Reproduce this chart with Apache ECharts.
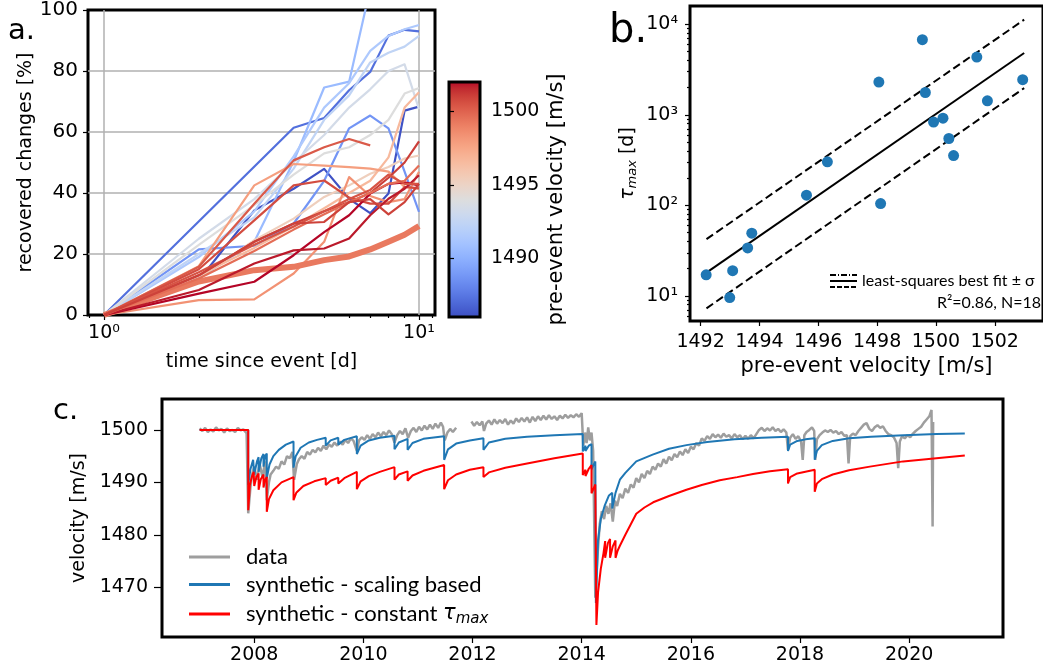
<!DOCTYPE html>
<html>
<head>
<meta charset="utf-8">
<script src="https://cdn.jsdelivr.net/npm/echarts@6/dist/echarts.min.js"></script>
<style>
  html, body { margin: 0; padding: 0; background: #fff; }
  #main { width: 1043px; height: 669px; }
</style>
</head>
<body>
<div id="main"></div>
<script>
// ---- panel a: recovery curves ----
var days = [1, 2, 3, 4, 5, 6, 7, 8, 9, 10];
var recVel = [1486.2, 1487.3, 1488.8, 1490.6, 1491.5, 1492.4, 1493.4, 1494.0, 1495.3, 1496.6,
              1497.8, 1498.3, 1500.2, 1500.6, 1501.0, 1502.0, 1501.7, 1499.6, 1500.4, 1500.9];
var recVals = [
  [0, 11.4, 34.3, 41.4, 47.9, 38.1, 33.4, 39.8, 67.0, 68.3],
  [0, null, null, 61.4, 64.6, 73.7, 79.7, 91.6, 93.5, 93.0],
  [0, 21.5, 22.7, 30.0, 44.0, 61.2, 65.4, 61.2, 47.0, 33.8],
  [0, 12.0, 24.0, 50.4, 74.6, 76.5, 107.0, null, null, null],
  [0, 19.0, 34.0, 52.0, 68.0, 76.0, 86.6, 91.5, 93.7, 95.1],
  [0, 20.0, 32.0, 48.0, 64.0, 72.0, 82.8, 86.0, 88.0, 91.5],
  [0, 25.0, 38.0, 50.0, 59.0, 68.0, 74.0, 80.0, 82.2, 67.5],
  [0, 23.0, 36.0, 46.0, 53.0, 55.0, 59.0, 64.0, 72.6, 74.4],
  [0, 12.0, 24.5, 31.6, 38.7, 42.5, 46.3, 48.5, 51.3, 52.3],
  [0, 13.0, 22.0, 29.0, 35.0, 40.0, 44.0, 51.7, 68.0, 73.0],
  [0, 16.0, 42.5, 49.5, 49.0, 48.5, 48.0, 47.0, 42.0, 41.4],
  [0, 4.9, 5.1, 13.6, 24.0, 45.2, 39.0, 37.0, 38.0, 47.0],
  [0, 15.8, 36.5, 50.7, 55.0, 57.7, 55.6, null, null, null],
  [0, 15.0, 31.0, 42.5, 44.1, 38.5, 36.5, 36.5, 42.0, 41.5],
  [0, 13.0, 24.0, 30.0, 34.0, 37.0, 40.0, 45.0, 50.0, 56.9],
  [0, 7.0, 10.9, 19.6, 27.2, 32.7, 39.8, 43.0, 43.5, 42.5],
  [0, 8.2, 16.9, 21.2, 21.8, 25.1, 32.7, 38.1, 41.4, 45.8],
  [0, 12.0, 21.0, 28.0, 33.0, 37.0, 40.0, 43.0, 44.0, 49.0],
  [0, 14.0, 23.0, 29.0, 34.0, 38.0, 41.0, 46.0, 43.0, 43.0],
  [0, 13.0, 24.0, 30.0, 30.5, 37.0, 38.0, 33.0, 37.0, 43.0]
];
var meanVel = 1499.2;
var meanVals = [0, 11.0, 14.7, 15.8, 18.0, 19.2, 21.5, 24.0, 26.3, 29.2];
var aMajorTicks = [1, 10];
var aMinorTicks = [0.9, 2, 3, 4, 5, 6, 7, 8, 9, 11];
var aGridY = [20, 40, 60, 80];

// ---- colorbar ----
var cbarMin = 1486, cbarMax = 1502;
var cbarTicks = [1490, 1495, 1500];

// ---- panel b: tau_max vs velocity ----
var bVel = [1492.19, 1493.09, 1492.99, 1493.60, 1493.74, 1495.60, 1496.31, 1498.06, 1498.12,
            1499.54, 1499.64, 1499.92, 1500.24, 1500.44, 1500.60, 1501.39, 1501.75, 1502.95];
var bTau = [17.1, 19.0, 9.6, 33.9, 49.3, 129.7, 302.9, 2302, 104.8,
            6760, 1766, 832, 920, 548, 355, 4347, 1430, 2444];
var fitVel = [1492.2, 1503.0];
var fitTau = [18.1, 4820];
var fitUpper = [42.4, 11250];
var fitLower = [7.3, 1977];
var bXTicks = [1492, 1494, 1496, 1498, 1500, 1502];
var bYTicks = [10, 100, 1000, 10000];
var bYMinor = [6, 7, 8, 9, 20, 30, 40, 50, 60, 70, 80, 90, 200, 300, 400, 500, 600, 700, 800, 900,
               2000, 3000, 4000, 5000, 6000, 7000, 8000, 9000];

// ---- panel c: velocity time series ----
var cYearTicks = [2008, 2010, 2012, 2014, 2016, 2018, 2020];
var cVelTicks = [1470, 1480, 1490, 1500];
var obsC = [
  [2007.00,1500.3],[2007.05,1499.8],[2007.10,1500.4],[2007.15,1499.6],[2007.20,1500.1],[2007.25,1499.7],
  [2007.30,1500.5],[2007.35,1499.9],[2007.40,1500.2],[2007.45,1499.5],[2007.50,1500.3],[2007.55,1499.8],
  [2007.60,1500.0],[2007.65,1499.6],[2007.70,1500.4],[2007.75,1499.9],[2007.80,1500.1],[2007.86,1499.4],
  [2007.89,1484.1],[2007.93,1489.0],[2007.96,1491.5],[2008.00,1493.0],[2008.05,1490.5],[2008.10,1493.5],
  [2008.15,1491.0],[2008.20,1494.0],[2008.23,1486.6],[2008.27,1490.0],[2008.30,1491.5],[2008.35,1492.2],
  [2008.40,1493.0],[2008.45,1492.6],[2008.50,1494.0],[2008.55,1493.4],[2008.60,1495.0],[2008.65,1494.6],
  [2008.70,1495.8],[2008.73,1490.5],[2008.78,1493.5],[2008.82,1494.4],[2008.87,1495.0],[2008.92,1494.5],
  [2008.97,1495.8],[2009.02,1495.3],[2009.07,1496.2],[2009.12,1495.7],[2009.17,1496.6],[2009.22,1496.0],
  [2009.27,1497.0],[2009.32,1496.3],[2009.37,1497.2],[2009.42,1496.8],[2009.47,1497.6],[2009.52,1497.0],
  [2009.57,1497.8],[2009.62,1497.2],[2009.67,1498.1],[2009.72,1497.5],[2009.77,1498.4],[2009.82,1497.9],
  [2009.88,1496.0],[2009.92,1498.0],[2009.97,1498.6],[2010.02,1498.1],[2010.07,1499.0],[2010.12,1498.3],
  [2010.17,1499.2],[2010.22,1498.6],[2010.27,1499.5],[2010.32,1498.8],[2010.37,1499.6],[2010.42,1499.0],
  [2010.47,1499.9],[2010.52,1499.2],[2010.57,1497.6],[2010.62,1499.0],[2010.67,1499.8],[2010.72,1499.2],
  [2010.77,1500.3],[2010.82,1498.5],[2010.87,1499.8],[2010.92,1500.4],[2010.97,1499.6],[2011.02,1500.6],
  [2011.07,1499.9],[2011.12,1500.8],[2011.17,1500.1],[2011.22,1501.0],[2011.27,1500.2],[2011.32,1501.2],
  [2011.37,1500.4],[2011.42,1501.4],[2011.46,1500.6],[2011.49,1498.0],[2011.54,1499.5],[2011.59,1500.2],
  [2011.64,1499.6],[2011.70,1500.4],[2011.84,'-'],[2011.98,1501.6],[2012.03,1500.8],[2012.08,1501.5],
  [2012.13,1500.9],[2012.18,1501.6],[2012.21,1499.8],[2012.25,1501.2],[2012.30,1501.8],[2012.35,1501.0],
  [2012.40,1502.0],[2012.45,1501.2],[2012.50,1501.9],[2012.55,1501.3],[2012.60,1502.1],[2012.65,1501.0],
  [2012.70,1501.8],[2012.75,1501.2],[2012.80,1502.2],[2012.85,1501.5],[2012.90,1502.3],[2012.95,1501.6],
  [2013.00,1502.4],[2013.05,1501.4],[2013.10,1502.5],[2013.15,1501.7],[2013.20,1502.6],[2013.25,1501.9],
  [2013.30,1502.7],[2013.35,1502.0],[2013.40,1502.8],[2013.45,1502.1],[2013.50,1502.6],[2013.55,1501.9],
  [2013.60,1502.7],[2013.65,1502.2],[2013.70,1502.9],[2013.75,1502.3],[2013.80,1502.8],[2013.85,1502.4],
  [2013.90,1503.0],[2013.95,1502.5],[2014.00,1503.2],[2014.03,1497.0],[2014.06,1499.5],[2014.09,1497.5],
  [2014.12,1500.5],[2014.15,1498.0],[2014.18,1499.5],[2014.21,1496.0],[2014.25,1468.0],[2014.29,1476.0],
  [2014.33,1482.0],[2014.37,1484.5],[2014.41,1483.0],[2014.45,1485.5],[2014.49,1484.0],[2014.53,1486.0],
  [2014.57,1482.5],[2014.61,1486.5],[2014.65,1485.5],[2014.70,1487.8],[2014.75,1487.0],[2014.80,1488.8],
  [2014.85,1488.0],[2014.90,1489.6],[2014.95,1489.0],[2015.00,1490.8],[2015.05,1490.0],[2015.10,1491.6],
  [2015.15,1490.8],[2015.20,1492.2],[2015.25,1491.6],[2015.30,1493.0],[2015.35,1492.4],[2015.40,1493.6],
  [2015.45,1493.0],[2015.50,1494.4],[2015.55,1493.6],[2015.60,1494.9],[2015.65,1494.2],[2015.70,1495.4],
  [2015.75,1494.8],[2015.80,1495.9],[2015.85,1495.2],[2015.90,1496.3],[2015.95,1495.6],[2016.00,1496.8],
  [2016.05,1496.3],[2016.10,1497.5],[2016.15,1497.0],[2016.20,1498.4],[2016.25,1497.9],[2016.30,1498.8],
  [2016.35,1498.3],[2016.40,1499.2],[2016.45,1498.6],[2016.50,1499.1],[2016.55,1498.5],[2016.60,1499.3],
  [2016.65,1498.7],[2016.70,1499.0],[2016.75,1498.4],[2016.80,1499.2],[2016.85,1498.6],[2016.90,1499.0],
  [2016.95,1498.2],[2017.00,1498.9],[2017.05,1498.3],[2017.10,1499.0],[2017.15,1498.4],[2017.20,1499.2],
  [2017.25,1500.0],[2017.30,1500.4],[2017.35,1499.8],[2017.40,1500.3],[2017.45,1499.9],[2017.50,1500.5],
  [2017.55,1499.8],[2017.60,1500.2],[2017.65,1499.6],[2017.70,1500.1],[2017.75,1499.5],[2017.78,1496.2],
  [2017.82,1498.5],[2017.87,1499.2],[2017.92,1498.3],[2017.97,1498.8],[2018.02,1497.8],[2018.05,1494.3],
  [2018.08,1499.0],[2018.12,1499.6],[2018.17,1500.0],[2018.22,1500.5],[2018.26,1499.8],[2018.28,1494.3],
  [2018.31,1498.2],[2018.36,1499.0],[2018.41,1499.5],[2018.46,1499.9],[2018.51,1499.6],[2018.56,1500.0],
  [2018.61,1499.5],[2018.66,1499.8],[2018.71,1499.2],[2018.76,1499.6],[2018.81,1498.9],[2018.86,1499.0],
  [2018.89,1493.6],[2018.92,1498.8],[2018.97,1499.3],[2019.02,1499.0],[2019.07,1499.8],[2019.12,1500.4],
  [2019.17,1501.0],[2019.22,1501.3],[2019.27,1500.2],[2019.32,1499.8],[2019.37,1500.5],[2019.42,1500.9],
  [2019.47,1500.4],[2019.52,1500.7],[2019.57,1499.8],[2019.62,1499.2],[2019.67,1499.0],[2019.72,1498.6],
  [2019.77,1497.5],[2019.80,1492.7],[2019.83,1497.8],[2019.87,1498.8],[2019.92,1498.4],[2019.97,1499.0],
  [2020.02,1498.6],[2020.07,1499.3],[2020.12,1499.8],[2020.17,1500.2],[2020.22,1500.6],[2020.27,1501.4],
  [2020.32,1502.0],[2020.37,1502.6],[2020.41,1503.8],[2020.43,1481.6],[2020.44,1501.5]
];
var scalingC = [
  [2007.00,1500.0],[2007.89,1500.0],[2007.89,1489.5],[2007.93,1492.5],[2007.98,1494.3],[2008.00,1494.6],
  [2008.00,1491.5],[2008.05,1494.0],[2008.08,1494.8],[2008.08,1492.0],[2008.13,1494.6],[2008.17,1495.4],
  [2008.17,1493.0],[2008.20,1495.0],[2008.23,1495.5],[2008.23,1490.8],[2008.28,1493.4],[2008.35,1495.0],
  [2008.45,1496.2],[2008.58,1497.2],[2008.72,1497.8],[2008.72,1492.8],[2008.76,1495.0],[2008.85,1496.6],
  [2009.00,1497.6],[2009.15,1498.1],[2009.31,1498.5],[2009.31,1497.0],[2009.40,1498.0],[2009.54,1498.5],
  [2009.54,1497.2],[2009.65,1498.1],[2009.88,1498.8],[2009.88,1495.4],[2009.95,1497.0],[2010.10,1498.0],
  [2010.30,1498.5],[2010.57,1498.9],[2010.57,1496.3],[2010.65,1497.6],[2010.81,1498.3],[2010.81,1496.2],
  [2010.90,1497.5],[2011.10,1498.3],[2011.48,1498.8],[2011.48,1494.3],[2011.55,1496.3],[2011.70,1497.4],
  [2011.95,1498.0],[2012.20,1498.4],[2012.20,1496.2],[2012.30,1497.6],[2012.60,1498.3],[2013.00,1498.7],
  [2013.50,1499.0],[2014.02,1499.2],[2014.02,1495.9],[2014.07,1497.0],[2014.07,1496.0],[2014.13,1497.0],
  [2014.18,1497.3],[2014.18,1492.5],[2014.25,1494.0],[2014.26,1467.0],[2014.30,1479.0],[2014.35,1483.0],
  [2014.42,1485.5],[2014.50,1487.5],[2014.56,1488.0],[2014.56,1485.0],[2014.62,1488.0],[2014.70,1490.5],
  [2014.80,1491.8],[2015.00,1494.0],[2015.30,1495.3],[2015.60,1496.4],[2015.92,1497.1],[2016.30,1497.7],
  [2016.80,1498.2],[2017.30,1498.5],[2017.78,1498.7],[2017.78,1496.0],[2017.82,1497.2],[2017.95,1497.9],
  [2018.10,1498.2],[2018.27,1498.4],[2018.27,1494.3],[2018.31,1496.0],[2018.40,1497.1],[2018.60,1497.9],
  [2018.90,1498.4],[2019.30,1498.7],[2019.90,1499.0],[2020.50,1499.2],[2021.02,1499.3]
];
var constC = [
  [2007.00,1500.0],[2007.89,1500.0],[2007.89,1484.7],[2007.92,1489.5],[2007.96,1491.2],[2007.99,1492.0],
  [2008.00,1489.3],[2008.04,1491.0],[2008.08,1491.7],[2008.08,1488.6],[2008.12,1490.6],[2008.17,1491.5],
  [2008.17,1489.0],[2008.20,1490.5],[2008.23,1491.0],[2008.23,1484.4],[2008.27,1486.8],[2008.35,1488.5],
  [2008.50,1490.0],[2008.72,1491.0],[2008.72,1486.6],[2008.77,1488.0],[2008.90,1489.3],[2009.10,1490.2],
  [2009.31,1490.8],[2009.31,1489.5],[2009.40,1490.3],[2009.54,1490.9],[2009.54,1489.8],[2009.65,1490.8],
  [2009.88,1492.0],[2009.88,1488.7],[2009.95,1490.2],[2010.10,1491.2],[2010.30,1492.0],[2010.57,1492.9],
  [2010.57,1490.5],[2010.65,1491.5],[2010.81,1492.1],[2010.81,1490.3],[2010.90,1491.3],[2011.10,1492.2],
  [2011.48,1493.3],[2011.48,1488.7],[2011.55,1490.4],[2011.70,1491.5],[2011.95,1492.4],[2012.20,1492.9],
  [2012.20,1491.0],[2012.30,1491.9],[2012.60,1492.8],[2013.00,1493.6],[2013.50,1494.6],[2014.02,1495.5],
  [2014.02,1491.4],[2014.07,1492.4],[2014.07,1491.2],[2014.13,1492.6],[2014.18,1493.3],[2014.18,1487.9],
  [2014.25,1489.6],[2014.27,1462.8],[2014.30,1469.0],[2014.35,1473.5],[2014.40,1476.5],[2014.43,1478.8],
  [2014.43,1475.6],[2014.48,1478.4],[2014.52,1479.2],[2014.52,1475.6],[2014.57,1477.8],[2014.62,1478.9],
  [2014.62,1475.6],[2014.66,1477.0],[2014.70,1477.9],[2014.80,1480.0],[2014.90,1482.0],[2015.00,1484.0],
  [2015.15,1485.2],[2015.31,1486.2],[2015.60,1487.4],[2015.92,1488.6],[2016.20,1489.5],[2016.53,1490.4],
  [2016.85,1491.0],[2017.14,1491.6],[2017.45,1492.1],[2017.78,1492.5],[2017.78,1489.8],[2017.82,1491.0],
  [2017.95,1491.7],[2018.27,1492.4],[2018.27,1488.2],[2018.31,1489.8],[2018.40,1490.6],[2018.60,1491.5],
  [2018.90,1492.3],[2019.28,1493.0],[2019.89,1494.0],[2020.50,1494.6],[2021.02,1495.1]
];

// coolwarm colormap samples
var cw = [[59,76,192],[68,90,204],[77,104,215],[87,117,225],[98,130,234],[108,142,241],[119,154,247],
  [130,165,251],[141,176,254],[152,185,255],[163,194,255],[174,201,253],[184,208,249],[194,213,244],
  [204,217,238],[213,219,230],[221,221,221],[229,216,209],[236,211,197],[241,204,184],[245,196,172],
  [247,187,159],[247,177,147],[247,166,134],[244,154,123],[241,141,111],[236,127,99],[229,112,88],
  [222,96,77],[213,80,66],[203,62,56],[192,40,47],[180,4,38]];

function coolwarm(v) {
  var t = (v - cbarMin) / (cbarMax - cbarMin);
  t = Math.max(0, Math.min(1, t));
  var p = t * (cw.length - 1);
  var i = Math.min(Math.floor(p), cw.length - 2);
  var f = p - i;
  var a = cw[i], b = cw[i + 1];
  return 'rgb(' + Math.round(a[0] + (b[0] - a[0]) * f) + ',' + Math.round(a[1] + (b[1] - a[1]) * f) + ',' + Math.round(a[2] + (b[2] - a[2]) * f) + ')';
}

var FONT = 'DejaVu Sans';
var sup = { '0': '\u2070', '1': '\u00b9', '2': '\u00b2', '3': '\u00b3', '4': '\u2074' };
function powLabel(v) {
  return '10' + sup[Math.round(Math.log(v) / Math.LN10)];
}
function plain(v) {
  return String(v);
}
function toPairs(xs, ys) {
  var out = [];
  for (var i = 0; i < xs.length; i++) {
    if (ys[i] !== null) out.push([xs[i], ys[i]]);
  }
  return out;
}

var tickStyle = { color: '#000', width: 1.2 };
var labelStyle = { fontFamily: FONT, fontSize: 19, color: '#000' };
var nameStyle = { fontFamily: FONT, fontSize: 19, color: '#000' };
var bigName = { fontFamily: FONT, fontSize: 21, color: '#000' };

var series = [];
recVals.forEach(function (vals, i) {
  var c = coolwarm(recVel[i]);
  series.push({
    type: 'line', xAxisIndex: 0, yAxisIndex: 0,
    data: toPairs(days, vals),
    symbol: 'none', lineStyle: { color: c, width: 2.2, join: 'round' }, itemStyle: { color: c },
    z: 3
  });
  if (i === 11) {
    series.push({
      type: 'line', xAxisIndex: 0, yAxisIndex: 0,
      data: toPairs(days, meanVals),
      symbol: 'none', lineStyle: { color: coolwarm(meanVel), width: 6, join: 'round' },
      itemStyle: { color: coolwarm(meanVel) }, z: 3
    });
  }
});

// panel b
series.push({
  type: 'line', xAxisIndex: 2, yAxisIndex: 2, data: toPairs(fitVel, fitTau), symbol: 'none',
  lineStyle: { color: '#000', width: 2 }, z: 3
});
series.push({
  type: 'line', xAxisIndex: 2, yAxisIndex: 2, data: toPairs(fitVel, fitUpper), symbol: 'none',
  lineStyle: { color: '#000', width: 2, type: [8, 4] }, z: 3
});
series.push({
  type: 'line', xAxisIndex: 2, yAxisIndex: 2, data: toPairs(fitVel, fitLower), symbol: 'none',
  lineStyle: { color: '#000', width: 2, type: [8, 4] }, z: 3
});
series.push({
  type: 'scatter', xAxisIndex: 2, yAxisIndex: 2, data: toPairs(bVel, bTau),
  symbolSize: 11, itemStyle: { color: '#1f77b4', opacity: 1 }, z: 4
});

// panel c
series.push({
  name: 'data', type: 'line', xAxisIndex: 3, yAxisIndex: 4, data: obsC, symbol: 'none',
  lineStyle: { color: '#9e9e9e', width: 2.5 }, itemStyle: { color: '#9e9e9e' }, z: 3
});
series.push({
  name: 'synthetic - scaling based', type: 'line', xAxisIndex: 3, yAxisIndex: 4, data: scalingC, symbol: 'none',
  lineStyle: { color: '#1f77b4', width: 2 }, itemStyle: { color: '#1f77b4' }, z: 4
});
series.push({
  name: 'synthetic - constant \u03c4max', type: 'line', xAxisIndex: 3, yAxisIndex: 4, data: constC, symbol: 'none',
  lineStyle: { color: '#ff0000', width: 2 }, itemStyle: { color: '#ff0000' }, z: 5
});

var cbarStops = cw.map(function (c, i) {
  return { offset: i / (cw.length - 1), color: 'rgb(' + c[0] + ',' + c[1] + ',' + c[2] + ')' };
});

var chart = echarts.init(document.getElementById('main'));
chart.setOption({
  animation: false,
  backgroundColor: '#fff',
  grid: [
    { left: 88, top: 9, width: 347, height: 306, show: true, borderColor: '#000', borderWidth: 3, backgroundColor: 'transparent' },
    { left: 449, top: 82, width: 31, height: 235, show: true, borderColor: '#000', borderWidth: 3,
      backgroundColor: new echarts.graphic.LinearGradient(0, 1, 0, 0, cbarStops) },
    { left: 690, top: 6, width: 363, height: 315, show: true, borderColor: '#000', borderWidth: 3, backgroundColor: 'transparent' },
    { left: 162, top: 399, width: 841, height: 238, show: true, borderColor: '#000', borderWidth: 3, backgroundColor: 'transparent' }
  ],
  xAxis: [
    {
      type: 'log', gridIndex: 0, min: 0.8897, max: 11.24,
      axisLine: { show: false },
      axisTick: { customValues: aMajorTicks, length: 5, lineStyle: tickStyle },
      axisLabel: Object.assign({ customValues: aMajorTicks, formatter: powLabel, margin: 9 }, labelStyle),
      splitLine: { show: true, lineStyle: { color: '#b0b0b0', width: 1.5 } },
      name: 'time since event [d]', nameLocation: 'middle', nameGap: 38, nameTextStyle: nameStyle
    },
    {
      type: 'log', gridIndex: 0, min: 0.8897, max: 11.24, position: 'bottom',
      axisLine: { show: false },
      axisTick: { customValues: aMinorTicks, length: 3, lineStyle: tickStyle },
      axisLabel: { show: false }, splitLine: { show: false }
    },
    {
      type: 'value', gridIndex: 2, min: 1491.64, max: 1503.64,
      axisLine: { show: false },
      axisTick: { customValues: bXTicks, length: 5, lineStyle: tickStyle },
      axisLabel: Object.assign({ customValues: bXTicks, formatter: plain, margin: 12 }, labelStyle),
      splitLine: { show: false },
      name: 'pre-event velocity [m/s]', nameLocation: 'middle', nameGap: 35, nameTextStyle: bigName
    },
    {
      type: 'value', gridIndex: 3, min: 2006.31, max: 2021.72,
      axisLine: { show: false },
      axisTick: { customValues: cYearTicks, length: 6, lineStyle: tickStyle },
      axisLabel: Object.assign({ customValues: cYearTicks, formatter: plain, margin: 9 }, labelStyle),
      splitLine: { show: false }
    },
    { type: 'value', gridIndex: 1, min: 0, max: 1, show: false }
  ],
  yAxis: [
    {
      type: 'value', gridIndex: 0, min: 0, max: 100, interval: 20,
      axisLine: { show: false },
      axisTick: { length: 5, lineStyle: tickStyle },
      axisLabel: Object.assign({ margin: 10, formatter: plain }, labelStyle, { fontSize: 20 }),
      splitLine: { show: false },
      name: 'recovered changes [%]', nameLocation: 'middle', nameGap: 52, nameTextStyle: nameStyle
    },
    {
      type: 'value', gridIndex: 1, position: 'right', min: cbarMin, max: cbarMax,
      axisLine: { show: false },
      axisTick: { customValues: cbarTicks, length: 5, lineStyle: tickStyle },
      axisLabel: Object.assign({ customValues: cbarTicks, formatter: plain, margin: 11 }, labelStyle),
      splitLine: { show: false },
      name: 'pre-event velocity [m/s]', nameLocation: 'middle', nameRotate: 90, nameGap: 66, nameTextStyle: bigName
    },
    {
      type: 'log', gridIndex: 2, min: 5.29, max: 15930,
      axisLine: { show: false },
      axisTick: { customValues: bYTicks, length: 5, lineStyle: tickStyle },
      axisLabel: Object.assign({ customValues: bYTicks, formatter: powLabel, margin: 12 }, labelStyle),
      splitLine: { show: false },
      name: '{t|\u03c4}{s|max} [d]', nameLocation: 'middle', nameGap: 51,
      nameTextStyle: Object.assign({
        rich: {
          t: { fontFamily: FONT, fontSize: 19, fontStyle: 'italic', color: '#000' },
          s: { fontFamily: FONT, fontSize: 13, fontStyle: 'italic', color: '#000', verticalAlign: 'bottom', lineHeight: 22 }
        }
      }, nameStyle)
    },
    {
      type: 'log', gridIndex: 2, min: 5.29, max: 15930, position: 'left',
      axisLine: { show: false },
      axisTick: { customValues: bYMinor, length: 3, lineStyle: tickStyle },
      axisLabel: { show: false }, splitLine: { show: false }
    },
    {
      type: 'value', gridIndex: 3, min: 1460.5, max: 1505.9,
      axisLine: { show: false },
      axisTick: { customValues: cVelTicks, length: 8, lineStyle: tickStyle },
      axisLabel: Object.assign({ customValues: cVelTicks, formatter: plain, margin: 14 }, labelStyle),
      splitLine: { show: false },
      name: 'velocity [m/s]', nameLocation: 'middle', nameGap: 55, nameTextStyle: nameStyle
    },
    {
      type: 'value', gridIndex: 0, min: 0, max: 100, position: 'left',
      axisLine: { show: false },
      axisTick: { show: false, customValues: aGridY },
      axisLabel: { show: false },
      splitLine: { show: true, lineStyle: { color: '#b0b0b0', width: 1.5 } }
    }
  ],
  legend: {
    data: ['data', 'synthetic - scaling based', 'synthetic - constant \u03c4max'],
    orient: 'vertical', left: 184, top: 541, icon: 'rect',
    itemWidth: 41, itemHeight: 3, itemGap: 5.5,
    textStyle: {
      fontFamily: 'Lato', fontSize: 22, color: '#000', lineHeight: 22, padding: [0, 0, 0, 11],
      rich: {
        n: { fontFamily: 'Lato', fontSize: 22, color: '#000', lineHeight: 22 },
        t: { fontFamily: FONT, fontSize: 21, fontStyle: 'italic', color: '#000', lineHeight: 22 },
        s: { fontFamily: FONT, fontSize: 15, fontStyle: 'italic', color: '#000', verticalAlign: 'bottom', lineHeight: 26 }
      }
    },
    formatter: function (name) {
      if (name.indexOf('\u03c4') >= 0) return '{n|synthetic - constant }{t|\u03c4}{s|max}';
      return name;
    }
  },
  graphic: [
    { type: 'text', x: 8, y: 31, style: { text: 'a.', font: '29px "DejaVu Sans"', fill: '#000', verticalAlign: 'middle' } },
    { type: 'text', x: 609, y: 32, style: { text: 'b.', font: '40px "DejaVu Sans"', fill: '#000', verticalAlign: 'middle' } },
    { type: 'text', x: 53, y: 411, style: { text: 'c.', font: '29px "DejaVu Sans"', fill: '#000', verticalAlign: 'middle' } },
    { type: 'line', shape: { x1: 830, y1: 275, x2: 857, y2: 275 }, style: { stroke: '#000', lineWidth: 2, lineDash: [6, 2, 1, 2] } },
    { type: 'line', shape: { x1: 830, y1: 281, x2: 857, y2: 281 }, style: { stroke: '#000', lineWidth: 2 } },
    { type: 'line', shape: { x1: 830, y1: 287, x2: 857, y2: 287 }, style: { stroke: '#000', lineWidth: 2, lineDash: [5, 2] } },
    { type: 'text', x: 862, y: 281, style: { text: 'least-squares best fit \u00b1 \u03c3', font: '16px Lato', fill: '#000', verticalAlign: 'middle' } },
    { type: 'text', x: 1041, y: 303, style: { text: 'R\u00b2=0.86, N=18', font: '16px Lato', fill: '#000', align: 'right', verticalAlign: 'middle' } }
  ],
  series: series
});
</script>
</body>
</html>
